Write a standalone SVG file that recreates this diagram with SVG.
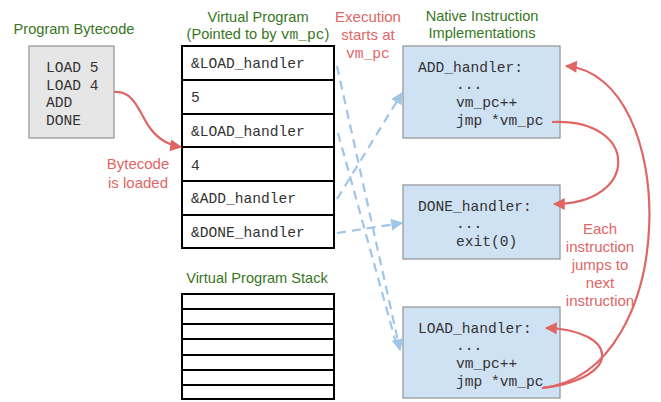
<svg xmlns="http://www.w3.org/2000/svg" width="661" height="402" viewBox="0 0 661 402">
<style>
.t{font-family:"Liberation Sans",Arial,sans-serif;font-size:14.6px;text-anchor:middle}
.g{fill:#38761d}
.r{fill:#e06666}
.m{font-family:"Liberation Mono","Courier New",monospace;font-size:14.6px;fill:#333}
.gray{fill:#e6e6e6;stroke:#999;stroke-width:1.3}
.blue{fill:#cfe2f3;stroke:#999;stroke-width:1.3}
.cell{fill:#fff;stroke:#000;stroke-width:2}
.red{fill:none;stroke:#e06666;stroke-width:2.2}
.dash{fill:none;stroke:#9fc5e8;stroke-width:2.2;stroke-dasharray:9,6}
</style>
<defs>
<marker id="ar" viewBox="0 0 10 10" refX="9" refY="5" markerUnits="userSpaceOnUse" markerWidth="13" markerHeight="12" orient="auto"><path d="M0,0 L10,5 L0,10 z" fill="#e06666"/></marker>
<marker id="ab" viewBox="0 0 10 10" refX="9" refY="5" markerUnits="userSpaceOnUse" markerWidth="14" markerHeight="12" orient="auto"><path d="M0,0 L10,5 L0,10 z" fill="#9fc5e8"/></marker>
</defs>

<g id="bytecode">
<text class="t g" x="74" y="34">Program Bytecode</text>
<rect class="gray" x="29" y="46" width="85" height="92"/>
<text class="m" x="46" y="72">LOAD 5</text>
<text class="m" x="46" y="90">LOAD 4</text>
<text class="m" x="46" y="107">ADD</text>
<text class="m" x="46" y="125">DONE</text>
</g>

<g id="bytecode-label">
<text class="t r" x="138" y="169" style="font-size:15px">Bytecode</text>
<text class="t r" x="138" y="188" style="font-size:15px">is loaded</text>
</g>

<g id="virtual-program">
<text class="t g" x="258" y="22">Virtual Program</text>
<text class="t g" x="258" y="39">(Pointed to by <tspan style="font-family:'Liberation Mono',monospace">vm_pc</tspan>)</text>
<rect class="cell" x="182" y="46" width="152" height="34"/>
<rect class="cell" x="182" y="80" width="152" height="34"/>
<rect class="cell" x="182" y="114" width="152" height="33"/>
<rect class="cell" x="182" y="147" width="152" height="34"/>
<rect class="cell" x="182" y="181" width="152" height="34"/>
<rect class="cell" x="182" y="215" width="152" height="33"/>
<text class="m" x="191" y="68">&amp;LOAD_handler</text>
<text class="m" x="191" y="102">5</text>
<text class="m" x="191" y="136">&amp;LOAD_handler</text>
<text class="m" x="191" y="170">4</text>
<text class="m" x="191" y="203">&amp;ADD_handler</text>
<text class="m" x="191" y="237">&amp;DONE_handler</text>
</g>

<g id="exec-label">
<text class="t r" x="368" y="22" style="font-size:15px">Execution</text>
<text class="t r" x="368" y="40" style="font-size:15px">starts at</text>
<text class="m" x="368" y="58" style="text-anchor:middle;fill:#e06666">vm_pc</text>
</g>

<g id="stack">
<text class="t g" x="257" y="283">Virtual Program Stack</text>
<rect class="cell" x="182" y="294" width="152" height="15"/>
<rect class="cell" x="182" y="309" width="152" height="15"/>
<rect class="cell" x="182" y="324" width="152" height="15"/>
<rect class="cell" x="182" y="339" width="152" height="16"/>
<rect class="cell" x="182" y="355" width="152" height="15"/>
<rect class="cell" x="182" y="370" width="152" height="15"/>
<rect class="cell" x="182" y="385" width="152" height="14"/>
</g>

<g id="native-title">
<text class="t g" x="482" y="21">Native Instruction</text>
<text class="t g" x="482" y="38">Implementations</text>
</g>

<g id="add-handler">
<rect class="blue" x="403" y="46" width="157" height="92"/>
<text class="m" x="418" y="72">ADD_handler:</text>
<text class="m" x="456" y="89">...</text>
<text class="m" x="456" y="107">vm_pc++</text>
<text class="m" x="456" y="125">jmp *vm_pc</text>
</g>

<g id="done-handler">
<rect class="blue" x="403" y="185" width="157" height="74"/>
<text class="m" x="418" y="211">DONE_handler:</text>
<text class="m" x="456" y="228">...</text>
<text class="m" x="456" y="246">exit(0)</text>
</g>

<g id="load-handler">
<rect class="blue" x="403" y="307" width="157" height="91"/>
<text class="m" x="418" y="333">LOAD_handler:</text>
<text class="m" x="456" y="350">...</text>
<text class="m" x="456" y="368">vm_pc++</text>
<text class="m" x="456" y="386">jmp *vm_pc</text>
</g>

<g id="each-label">
<text class="t r" x="600" y="234" style="font-size:15px">Each</text>
<text class="t r" x="600" y="252" style="font-size:15px">instruction</text>
<text class="t r" x="600" y="270" style="font-size:15px">jumps to</text>
<text class="t r" x="600" y="288" style="font-size:15px">next</text>
<text class="t r" x="600" y="306" style="font-size:15px">instruction</text>
</g>

<g id="connectors">
<path class="red" d="M114,92 C135,90 140,115 150,128 C158,139 168,145 181,147" marker-end="url(#ar)"/>
<path class="red" d="M552,122 C640,118 640,204 554,204" marker-end="url(#ar)"/>
<path class="red" d="M542,388 C682,372 680,75 566,66" marker-end="url(#ar)"/>
<path class="red" d="M542,388 C625,378 618,330 546,328" marker-end="url(#ar)"/>
<path class="dash" d="M337,66 L400,350" marker-end="url(#ab)"/>
<path class="dash" d="M338,133 L396,343"/>
<path class="dash" d="M337,199 L402,93" marker-end="url(#ab)"/>
<path class="dash" d="M337,233 L402,223" marker-end="url(#ab)"/>
</g>
</svg>
